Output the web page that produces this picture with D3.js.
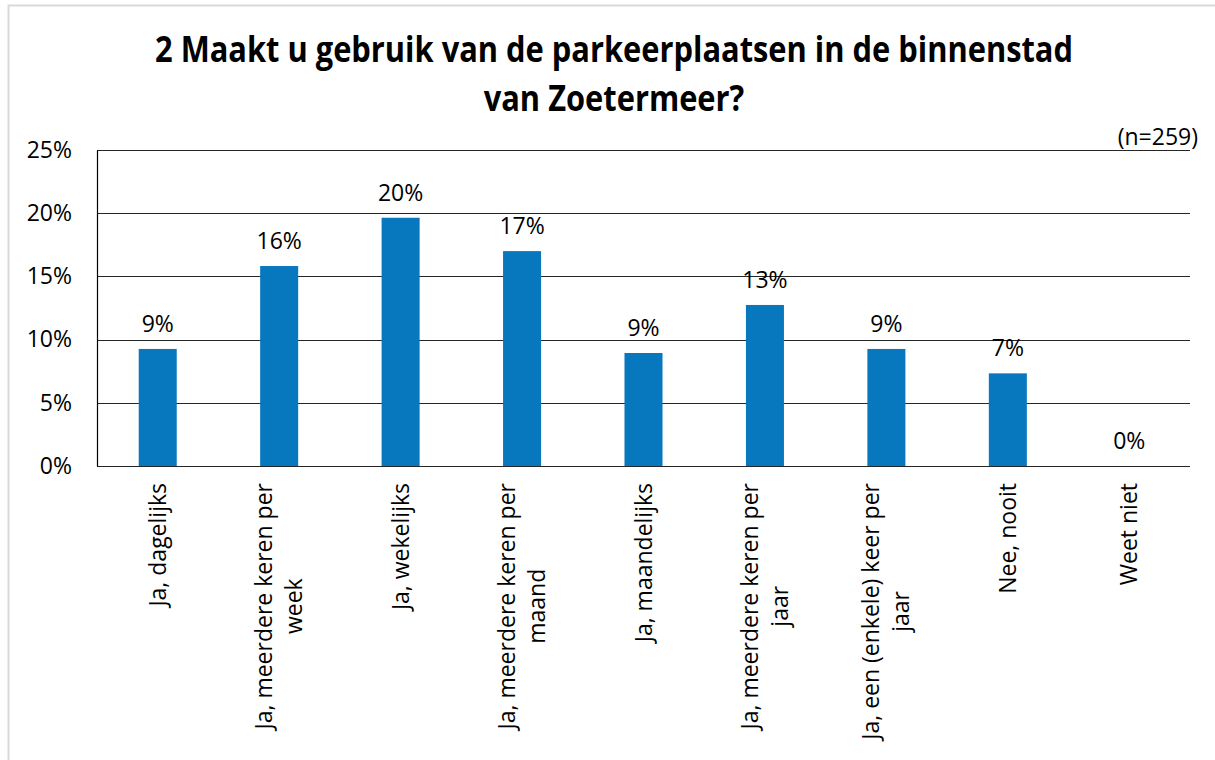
<!DOCTYPE html>
<html>
<head>
<meta charset="utf-8">
<script src="https://cdn.jsdelivr.net/npm/d3@7"></script>
<style>
  body { margin: 0; background: #fff; }
  svg { display: block; }
</style>
</head>
<body>
<div id="chart"></div>
<script>

const categories = [
    "Ja, dagelijks",
    "Ja, meerdere keren per week",
    "Ja, wekelijks",
    "Ja, meerdere keren per maand",
    "Ja, maandelijks",
    "Ja, meerdere keren per jaar",
    "Ja, een (enkele) keer per jaar",
    "Nee, nooit",
    "Weet niet"
];
// wrapped as in the original chart
const categoryLines = [
    ["Ja, dagelijks"],
    ["Ja, meerdere keren per", "week"],
    ["Ja, wekelijks"],
    ["Ja, meerdere keren per", "maand"],
    ["Ja, maandelijks"],
    ["Ja, meerdere keren per", "jaar"],
    ["Ja, een (enkele) keer per", "jaar"],
    ["Nee, nooit"],
    ["Weet niet"]
];
const values = [9.26, 15.82, 19.64, 17.0, 8.94, 12.74, 9.26, 7.33, 0];
const yTicks = [0, 5, 10, 15, 20, 25];
const titleLines = ["2 Maakt u gebruik van de parkeerplaatsen in de binnenstad", "van Zoetermeer?"];
const note = "(n=259)";

var W = 1215, H = 760;
var margin = {top: 150, right: 25, bottom: 294, left: 97},
    width = W - margin.left - margin.right,
    height = H - margin.top - margin.bottom;

var svg = d3.select("#chart").append("svg")
    .attr("width", W)
    .attr("height", H);

// outer frame (only top and left edges visible)
svg.append("path")
    .attr("d", "M8.5,760 L8.5,5.5 L1215,5.5")
    .attr("fill", "none")
    .attr("stroke", "#d9d9d9")
    .attr("stroke-width", 2);

var font = "'Open Sans', sans-serif";
var fs = 23;

// title
var title = svg.append("g").attr("font-family", font).attr("font-weight", "bold")
    .attr("font-size", 35).attr("fill", "#000");
var t1 = title.append("text").attr("x", 614).attr("y", 62).attr("text-anchor", "middle").text(titleLines[0]);
var t2 = title.append("text").attr("x", 614).attr("y", 111).attr("text-anchor", "middle").text(titleLines[1]);
// original font is narrower, squeeze to the same width
var target = 918;
var len = t1.node().getComputedTextLength();
if (len > target) {
    t1.attr("textLength", target).attr("lengthAdjust", "spacingAndGlyphs");
    t2.attr("textLength", t2.node().getComputedTextLength() * target / len).attr("lengthAdjust", "spacingAndGlyphs");
}

svg.append("text")
    .attr("x", 1198).attr("y", 145)
    .attr("text-anchor", "end")
    .attr("font-family", font).attr("font-size", fs)
    .text(note);

var g = svg.append("g").attr("transform", "translate(" + margin.left + "," + margin.top + ")");

var x = d3.scaleBand()
    .domain(categories)
    .range([0, width])
    .paddingInner(0.687)
    .paddingOuter(0.3435);

var y = d3.scaleLinear().domain([0, 25]).range([height, 0]);

// gridlines
g.selectAll(".grid")
    .data(yTicks)
    .enter().append("line")
    .attr("x1", 0).attr("x2", width)
    .attr("y1", d => Math.round(y(d)) + 0.5)
    .attr("y2", d => Math.round(y(d)) + 0.5)
    .attr("stroke", "#262626")
    .attr("stroke-width", 1.2);

// y axis
var yAxis = g.append("g")
    .call(d3.axisLeft(y).tickValues(yTicks).tickSize(0).tickPadding(25).tickFormat(d => d + "%"));
yAxis.select(".domain").attr("stroke", "#000").attr("stroke-width", 1.2);
yAxis.selectAll("text").attr("font-family", font).attr("font-size", fs).attr("fill", "#000");

// bars
g.selectAll(".bar")
    .data(values)
    .enter().append("rect")
    .attr("class", "bar")
    .attr("x", (d, i) => x(categories[i]))
    .attr("width", x.bandwidth())
    .attr("y", d => y(d))
    .attr("height", d => height - y(d))
    .attr("fill", "#0777be");

// value labels
g.selectAll(".lbl")
    .data(values)
    .enter().append("text")
    .attr("x", (d, i) => x(categories[i]) + x.bandwidth() / 2)
    .attr("y", d => y(d) - 17)
    .attr("text-anchor", "middle")
    .attr("font-family", font).attr("font-size", fs)
    .text(d => Math.round(d) + "%");

// category labels, rotated
var lineH = 30;
var cat = g.selectAll(".cat")
    .data(categoryLines)
    .enter().append("g")
    .attr("class", "cat");

cat.each(function (lines, i) {
    var el = d3.select(this);
    var txt = el.append("text")
        .attr("font-family", font).attr("font-size", fs)
        .attr("text-anchor", "middle");
    lines.forEach(function (l, k) {
        txt.append("tspan")
            .attr("x", 0)
            .attr("y", (k - (lines.length - 1) / 2) * lineH + 8)
            .text(l);
    });
    var maxW = d3.max(txt.selectAll("tspan").nodes(), n => n.getComputedTextLength());
    var cx = x(categories[i]) + x.bandwidth() / 2;
    var cy = height + 17 + maxW / 2;
    el.attr("transform", "translate(" + cx + "," + cy + ") rotate(-90)");
});

</script>
</body>
</html>
